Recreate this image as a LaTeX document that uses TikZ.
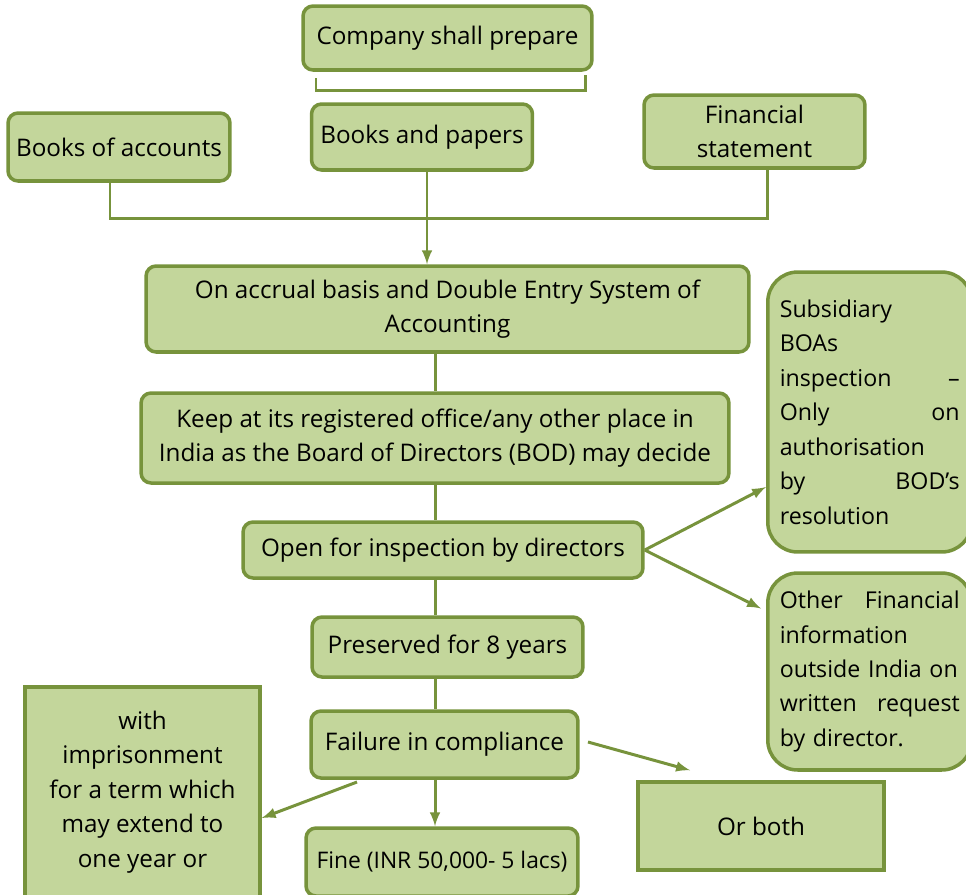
\documentclass[tikz,border=0pt]{standalone}
\usepackage{fontspec}
\setmainfont{Open Sans}
\usepackage{xcolor}
\usepackage{tikz}
\usetikzlibrary{shapes,arrows,positioning,calc}
\definecolor{boxgreen}{HTML}{C3D69B}
\definecolor{edgegreen}{HTML}{77933C}

\begin{document}
\begin{tikzpicture}[x=0.02cm, y=-0.02cm,
    font=\fontsize{13.8}{19.6}\selectfont,
    block/.style={rectangle, draw=edgegreen, fill=boxgreen, line width=2pt, rounded corners=0.2cm, align=center, inner sep=0pt},
    plain/.style={rectangle, draw=edgegreen, fill=boxgreen, line width=2pt, align=center, inner sep=0pt},
    sidebox/.style={rectangle, draw=edgegreen, fill=boxgreen, line width=2pt, rounded corners=0.6cm, align=left, text width=3.6cm, inner xsep=0.24cm, font=\fontsize{13.2}{19.6}\selectfont},
    link/.style={draw=edgegreen, line width=1.7pt},
    arrow/.style={link, ->, >=latex}]

    \useasboundingbox (0,0) rectangle (966,894);

    \node[block, minimum width=5.78cm, minimum height=1.28cm] (prepare) at (447.5,38) {Company shall prepare};
    \node[block, minimum width=4.42cm, minimum height=1.32cm] (papers) at (422,137) {Books and papers};
    \node[block, minimum width=4.44cm, minimum height=1.36cm] (accounts) at (119,147) {Books of accounts};
    \node[block, minimum width=4.42cm, minimum height=1.46cm] (finstmt) at (754.5,131.5) {Financial\\statement};
    \node[block, minimum width=12.06cm, minimum height=1.72cm] (accrual) at (447.5,309) {On accrual basis and Double Entry System of\\Accounting};
    \node[block, minimum width=11.76cm, minimum height=1.8cm] (keep) at (435,438) {Keep at its registered office/any other place in\\India as the Board of Directors (BOD) may decide};
    \node[block, minimum width=8cm, minimum height=1.12cm] (openinsp) at (443,550) {Open for inspection by directors};
    \node[block, minimum width=5.42cm, minimum height=1.2cm] (preserved) at (447.5,647) {Preserved for 8 years};
    \node[block, minimum width=5.34cm, minimum height=1.34cm] (failure) at (444.5,744.5) {Failure in compliance};
    \node[block, minimum width=5.44cm, minimum height=1.36cm, font=\fontsize{13}{19.6}\selectfont] (fine) at (442,862) {Fine (INR 50,000- 5 lacs)};
    \node[plain, minimum width=4.7cm, minimum height=4.2cm] (imprison) at (142.5,792) {with\\imprisonment\\for a term which\\may extend to\\one year or};
    \node[plain, minimum width=4.92cm, minimum height=1.76cm] (orboth) at (761,826) {Or both};
    \node[sidebox, anchor=west, minimum height=5.6cm] (subsid) at (766,412) {Subsidiary\\BOAs\\inspection\hfill --\\Only\hfill on\\authorisation\\by\hfill BOD’s\\resolution};
    \node[sidebox, anchor=west, minimum height=3.94cm] (other) at (766,671.5) {Other\hfill Financial\\information\\outside India on\\written\hfill request\\by director.};

    % bracket under the top box
    \draw[link] (316,78) -- (316,90) -- (585,90) -- (585,75);

    % the three books join into one line
    \coordinate (busL) at (110,218);
    \coordinate (busR) at (767,218);
    \draw[link] (accounts.south -| busL) -- (busL) -- (busR) -- (finstmt.south -| busR);
    \draw[arrow] ([xshift=0.1cm]papers.south) -- ([xshift=0.1cm]papers.south |- accrual.north);

    % main column
    \draw[link] (keep.north |- accrual.south) -- (keep.north);
    \draw[link] (keep.south) -- (keep.south |- openinsp.north);
    \draw[link] (keep.south |- openinsp.south) -- (keep.south |- preserved.north);
    \draw[link] (keep.south |- preserved.south) -- (keep.south |- failure.north);
    \draw[arrow] (keep.south |- failure.south) -- (keep.south |- fine.north);

    % side branches
    \draw[arrow] (openinsp.east) -- ($(subsid.west)+(0,75)$);
    \draw[arrow] (openinsp.east) -- ($(other.west)+(-5,-63)$);
    \coordinate (failL) at (357,782);
    \coordinate (failR) at (588,742);
    \draw[arrow] (failL) -- ($(imprison.east)+(0,26)$);
    \draw[arrow] (failR) -- ($(orboth.north)+(-71,-10)$);
\end{tikzpicture}
\end{document}
